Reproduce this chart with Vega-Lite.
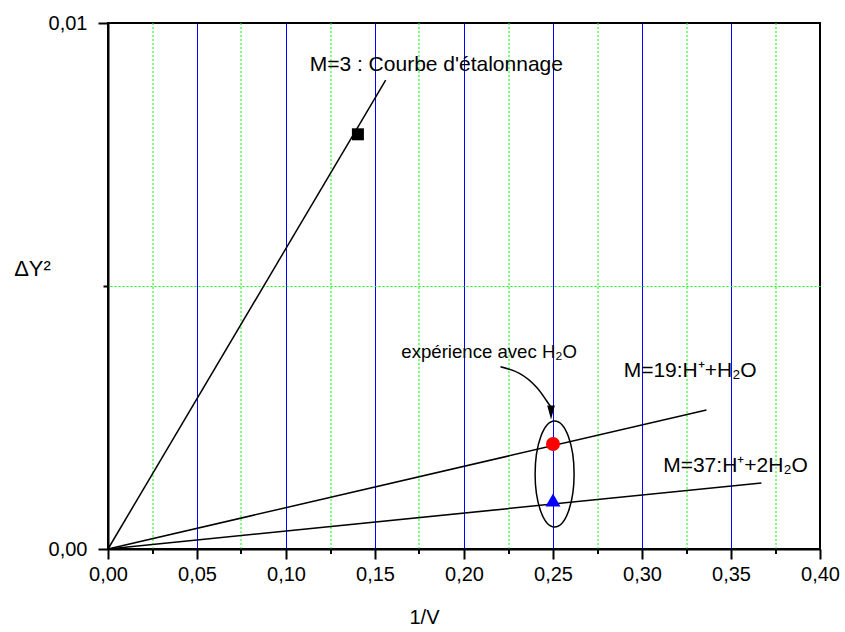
{
  "$schema": "https://vega.github.io/schema/vega-lite/v6.json",
  "width": 712,
  "height": 526,
  "autosize": {"type": "none"},
  "padding": {"left": 108, "top": 23, "right": 25, "bottom": 83},
  "background": "white",
  "config": {
    "font": "Liberation Sans",
    "view": {"stroke": "black", "strokeWidth": 2},
    "axis": {"labelFont": "Liberation Sans", "titleFont": "Liberation Sans", "labelColor": "black", "titleColor": "black", "titleFontWeight": "normal"},
    "text": {"font": "Liberation Sans"}
  },
  "resolve": {"axis": {"x": "independent", "y": "independent"}},
  "datasets": {
    "lines": [
      {"series": "M3", "x": 0, "y": 0},
      {"series": "M3", "x": 0.156, "y": 0.008916},
      {"series": "M19", "x": 0, "y": 0},
      {"series": "M19", "x": 0.3362, "y": 0.002643},
      {"series": "M37", "x": 0, "y": 0},
      {"series": "M37", "x": 0.3671, "y": 0.001255}
    ],
    "arrow": [
      {"order": 1, "x": 0.2205, "y": 0.003466},
      {"order": 2, "x": 0.2311, "y": 0.00334},
      {"order": 3, "x": 0.2405, "y": 0.003086},
      {"order": 4, "x": 0.2461, "y": 0.002833},
      {"order": 5, "x": 0.2488, "y": 0.0027}
    ],
    "arrowhead": [{"x": 0.2489, "y": 0.002595}],
    "points": [
      {"kind": "etalon", "x": 0.1404, "y": 0.007884},
      {"kind": "h2o", "x": 0.25, "y": 0.001996},
      {"kind": "2h2o", "x": 0.25, "y": 0.000932}
    ],
    "ellipse": [{"x": 0.2509, "y": 0.001426}],
    "labels": [
      {"kind": "big", "text": "M=3 : Courbe d'étalonnage", "x": 0.1133, "y": 0.009093},
      {"kind": "small", "text": "expérience avec H₂O", "x": 0.1648, "y": 0.003631},
      {"kind": "big", "text": "M=19:H⁺+H₂O", "x": 0.2897, "y": 0.003276},
      {"kind": "big", "text": "M=37:H⁺+2H₂O", "x": 0.3119, "y": 0.001473}
    ]
  },
  "layer": [
    {
      "data": {"name": "arrow"},
      "mark": {"type": "line", "color": "black", "strokeWidth": 1.5, "interpolate": "natural"},
      "encoding": {
        "x": {
          "field": "x", "type": "quantitative",
          "scale": {"domain": [0, 0.4], "nice": false, "zero": false},
          "axis": {
            "orient": "top",
            "title": null,
            "values": [0.05, 0.1, 0.15, 0.2, 0.25, 0.3, 0.35],
            "labels": false,
            "ticks": false,
            "domain": false,
            "grid": true,
            "gridColor": "#0000ff",
            "gridWidth": 1,
            "gridOpacity": 1,
            "translate": 0.5
          }
        },
        "y": {
          "field": "y", "type": "quantitative",
          "scale": {"domain": [0, 0.01], "nice": false, "zero": false},
          "axis": {
            "orient": "right",
            "title": null,
            "values": [0.005],
            "labels": false,
            "ticks": false,
            "domain": false,
            "grid": true,
            "gridColor": "#00ff00",
            "gridDash": [2, 2],
            "gridWidth": 1,
            "gridOpacity": 1,
            "translate": 0.5
          }
        },
        "order": {"field": "order"}
      }
    },
    {
      "data": {"name": "arrowhead"},
      "mark": {"type": "point", "shape": "M-0.55,-1L0.55,-1L0,1Z", "size": 196, "filled": true, "color": "black", "opacity": 1},
      "encoding": {
        "x": {
          "field": "x", "type": "quantitative",
          "axis": {
            "orient": "bottom",
            "title": null,
            "values": [0.025, 0.075, 0.125, 0.175, 0.225, 0.275, 0.325, 0.375],
            "labels": false,
            "ticks": true,
            "tickSize": 5,
            "tickWidth": 2,
            "tickColor": "black",
            "domain": false,
            "grid": true,
            "gridColor": "#00ff00",
            "gridDash": [2, 2],
            "gridWidth": 1,
            "gridOpacity": 1,
            "translate": 0
          }
        },
        "y": {
          "field": "y", "type": "quantitative",
          "axis": {
            "orient": "left",
            "title": null,
            "values": [0.005],
            "labels": false,
            "ticks": true,
            "tickSize": 5,
            "tickWidth": 2,
            "tickColor": "black",
            "domain": false,
            "grid": false
          }
        }
      }
    },
    {
      "data": {"name": "lines"},
      "mark": {"type": "line", "color": "black", "strokeWidth": 1.5},
      "encoding": {
        "x": {
          "field": "x", "type": "quantitative",
          "axis": {
            "orient": "bottom",
            "title": "1/V",
            "titleFontSize": 20,
            "titleX": 316,
            "titleY": 74,
            "titleAlign": "center",
            "titleBaseline": "alphabetic",
            "values": [0, 0.05, 0.1, 0.15, 0.2, 0.25, 0.3, 0.35, 0.4],
            "labelExpr": "replace(format(datum.value,'.2f'),'.',',')",
            "labelOverlap": false,
            "labelFontSize": 20,
            "labelPadding": 5,
            "labelFlush": false,
            "domainColor": "black",
            "domainWidth": 2,
            "tickColor": "black",
            "tickWidth": 2,
            "tickSize": 10,
            "grid": false
          }
        },
        "y": {
          "field": "y", "type": "quantitative",
          "axis": {
            "orient": "left",
            "title": "ΔY²",
            "titleFontSize": 22,
            "titleAngle": 0,
            "titleX": -76,
            "titleY": 252,
            "titleAlign": "center",
            "titleBaseline": "alphabetic",
            "values": [0, 0.01],
            "labelExpr": "replace(format(datum.value,'.2f'),'.',',')",
            "labelOverlap": false,
            "labelFontSize": 20,
            "labelPadding": 11,
            "labelFlush": false,
            "domainColor": "black",
            "domainWidth": 2,
            "tickColor": "black",
            "tickWidth": 2,
            "tickSize": 10,
            "grid": false
          }
        },
        "detail": {"field": "series"}
      }
    },
    {
      "data": {"name": "ellipse"},
      "mark": {"type": "point", "shape": "M0,-1C0.2033,-1,0.368,-0.5523,0.368,0C0.368,0.5523,0.2033,1,0,1C-0.2033,1,-0.368,0.5523,-0.368,0C-0.368,-0.5523,-0.2033,-1,0,-1Z", "size": 11236, "filled": false, "color": "black", "strokeWidth": 1.5, "opacity": 1},
      "encoding": {
        "x": {"field": "x", "type": "quantitative", "axis": null},
        "y": {"field": "y", "type": "quantitative", "axis": null}
      }
    },
    {
      "data": {"name": "points"},
      "transform": [{"filter": "datum.kind=='etalon'"}],
      "mark": {"type": "point", "shape": "square", "size": 144, "filled": true, "color": "black", "opacity": 1},
      "encoding": {
        "x": {"field": "x", "type": "quantitative", "axis": null},
        "y": {"field": "y", "type": "quantitative", "axis": null}
      }
    },
    {
      "data": {"name": "points"},
      "transform": [{"filter": "datum.kind=='h2o'"}],
      "mark": {"type": "point", "shape": "circle", "size": 196, "filled": true, "color": "#ff0000", "opacity": 1},
      "encoding": {
        "x": {"field": "x", "type": "quantitative", "axis": null},
        "y": {"field": "y", "type": "quantitative", "axis": null}
      }
    },
    {
      "data": {"name": "points"},
      "transform": [{"filter": "datum.kind=='2h2o'"}],
      "mark": {"type": "point", "shape": "triangle-up", "size": 225, "filled": true, "color": "#0000ff", "opacity": 1},
      "encoding": {
        "x": {"field": "x", "type": "quantitative", "axis": null},
        "y": {"field": "y", "type": "quantitative", "axis": null}
      }
    },
    {
      "data": {"name": "labels"},
      "transform": [{"filter": "datum.kind=='big'"}],
      "mark": {"type": "text", "align": "left", "baseline": "alphabetic", "fontSize": 21, "color": "black"},
      "encoding": {
        "x": {"field": "x", "type": "quantitative", "axis": null},
        "y": {"field": "y", "type": "quantitative", "axis": null},
        "text": {"field": "text"}
      }
    },
    {
      "data": {"name": "labels"},
      "transform": [{"filter": "datum.kind=='small'"}],
      "mark": {"type": "text", "align": "left", "baseline": "alphabetic", "fontSize": 18.6, "color": "black"},
      "encoding": {
        "x": {"field": "x", "type": "quantitative", "axis": null},
        "y": {"field": "y", "type": "quantitative", "axis": null},
        "text": {"field": "text"}
      }
    }
  ]
}
